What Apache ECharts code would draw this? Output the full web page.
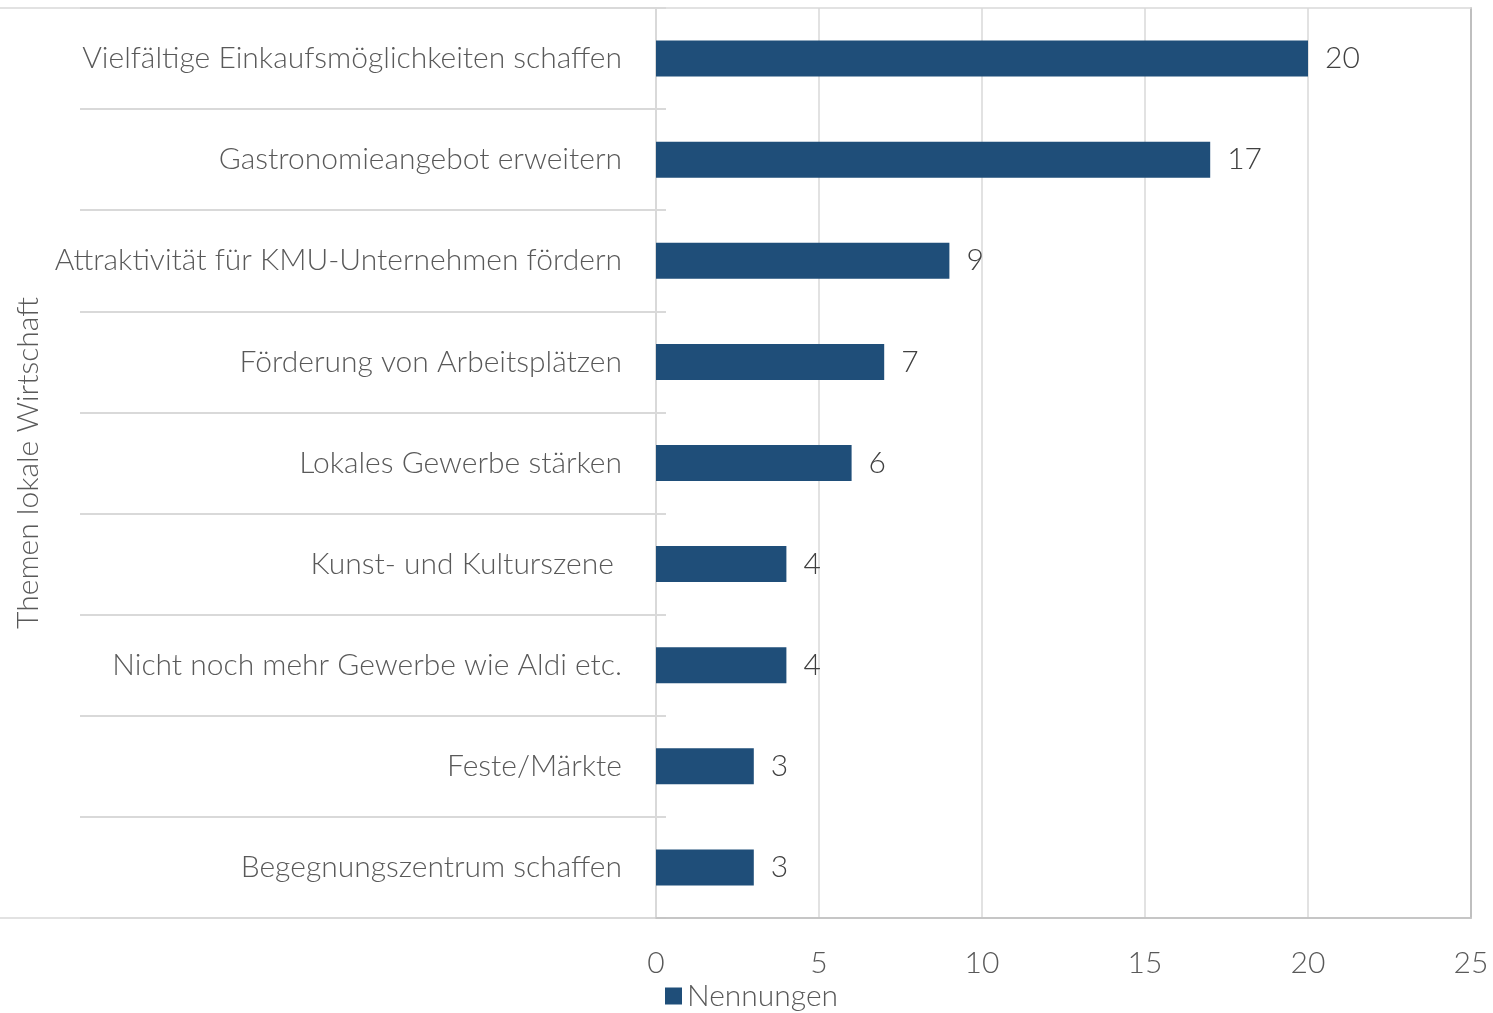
<!DOCTYPE html>
<html>
<head>
<meta charset="utf-8">
<script src="https://cdn.jsdelivr.net/npm/echarts@6/dist/echarts.min.js"></script>
<style>
  html, body { margin: 0; padding: 0; background: #fff; }
  #main { width: 1493px; height: 1013px; }
</style>
</head>
<body>
<div id="main"></div>
<script>
// Themen lokale Wirtschaft - Nennungen
var categories = [
    'Vielfältige Einkaufsmöglichkeiten schaffen',
    'Gastronomieangebot erweitern',
    'Attraktivität für KMU-Unternehmen fördern',
    'Förderung von Arbeitsplätzen',
    'Lokales Gewerbe stärken',
    'Kunst- und Kulturszene ',
    'Nicht noch mehr Gewerbe wie Aldi etc.',
    'Feste/Märkte',
    'Begegnungszentrum schaffen'
];
var nennungen = [20, 17, 9, 7, 6, 4, 4, 3, 3];
var xTicks = { min: 0, max: 25, interval: 5 };

var FONT = 'Lato';
var chart = echarts.init(document.getElementById('main'));

var frameLine = { show: true, onZero: false, lineStyle: { color: '#d9d9d9', width: 1.5 } };

var option = {
    animation: false,
    textStyle: { fontFamily: FONT },
    legend: {
        data: ['Nennungen'],
        left: 660,
        top: 976,
        icon: 'rect',
        itemWidth: 17,
        itemHeight: 17,
        itemGap: 8,
        textStyle: { fontSize: 30, color: '#595959', fontFamily: FONT, fontWeight: 300 }
    },
    grid: [
        // rahmen (oben, unten, rechts)
        { left: 0, right: 22, top: 8, bottom: 95 },
        // trennlinien der kategorien
        { left: 80, width: 586, top: 8, bottom: 95 },
        // diagramm
        { left: 656, right: 22, top: 8, bottom: 95 }
    ],
    xAxis: [
        { gridIndex: 0, type: 'value', position: 'top', axisLine: frameLine, axisTick: { show: false }, axisLabel: { show: false }, splitLine: { show: false } },
        { gridIndex: 0, type: 'value', position: 'bottom', axisLine: frameLine, axisTick: { show: false }, axisLabel: { show: false }, splitLine: { show: false } },
        { gridIndex: 1, type: 'value', show: false },
        {
            gridIndex: 2,
            type: 'value',
            min: xTicks.min,
            max: xTicks.max,
            interval: xTicks.interval,
            axisLine: { show: true, lineStyle: { color: '#bfbfbf', width: 1.5 } },
            axisTick: { show: false },
            axisLabel: { fontSize: 30, color: '#595959', margin: 30, fontFamily: FONT, fontWeight: 300 },
            splitLine: { show: true, lineStyle: { color: '#d9d9d9', width: 1.5 } }
        }
    ],
    yAxis: [
        { gridIndex: 0, type: 'value', position: 'right', axisLine: { show: true, onZero: false, lineStyle: { color: '#bfbfbf', width: 2 } }, axisTick: { show: false }, axisLabel: { show: false }, splitLine: { show: false } },
        {
            gridIndex: 1,
            type: 'category',
            inverse: true,
            data: categories,
            axisLine: { show: false },
            axisTick: { show: false },
            axisLabel: { show: false },
            splitLine: { show: true, lineStyle: { color: '#d9d9d9', width: 2 } }
        },
        {
            gridIndex: 2,
            type: 'category',
            inverse: true,
            data: categories,
            name: 'Themen lokale Wirtschaft',
            nameLocation: 'middle',
            nameGap: 612,
            nameTextStyle: { fontSize: 30, color: '#595959', fontFamily: FONT, fontWeight: 300 },
            axisLine: { show: true, lineStyle: { color: '#d9d9d9', width: 2 } },
            axisTick: { show: false },
            axisLabel: { fontSize: 30, color: '#595959', margin: 34, fontFamily: FONT, fontWeight: 300 }
        }
    ],
    series: [
        {
            name: 'Nennungen',
            type: 'bar',
            xAxisIndex: 3,
            yAxisIndex: 2,
            data: nennungen,
            barWidth: 36,
            itemStyle: { color: '#1f4e79' },
            label: {
                show: true,
                position: 'right',
                distance: 17,
                fontSize: 30,
                color: '#404040',
                fontFamily: FONT,
                fontWeight: 300
            }
        }
    ]
};

chart.setOption(option);
</script>
</body>
</html>
